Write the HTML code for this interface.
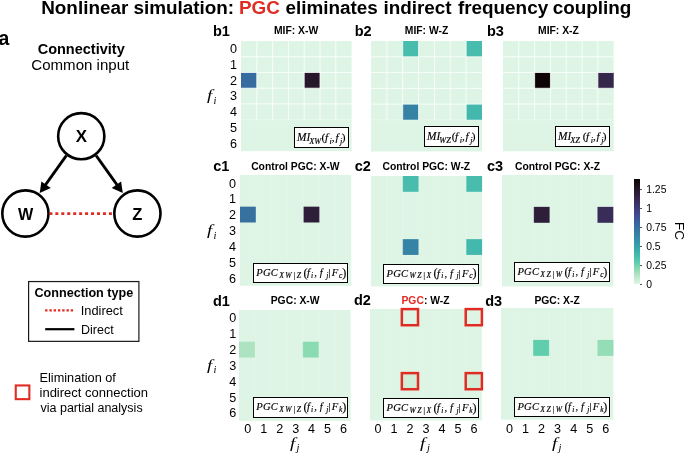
<!DOCTYPE html>
<html><head><meta charset="utf-8"><style>
*{margin:0;padding:0;box-sizing:border-box}
html,body{width:685px;height:453px;overflow:hidden;background:#fff}
body{position:relative;will-change:transform;font-family:"Liberation Sans",sans-serif;color:#000}
.a{position:absolute;white-space:nowrap}
.hm{position:absolute;background:#def5e5;overflow:hidden}
.cell{position:absolute}
.gl{position:absolute;background:#fff}
.ttl{position:absolute;font-weight:bold;font-size:10.35px;line-height:10px;text-align:center;white-space:nowrap}
.pl{position:absolute;font-weight:bold;font-size:14.5px;line-height:15px}
.tk{position:absolute;font-size:12.6px;line-height:11px;text-align:center;width:10px}
.box{position:absolute;background:#fff;border:1.3px solid #000}
.mt{color:#000;-webkit-text-stroke:0.15px #000}
.box sub{vertical-align:baseline;position:relative}
.mi{font-size:12px}
.mi .s1{font-size:8.5px;top:3px}
.mi .s2{font-size:8.5px;top:2.5px}
.pg{font-size:11px}
.pg .s3{font-size:8px;top:2px}
.pg .s4{font-size:8px;top:2px}
.cal{font-family:"Liberation Serif",serif}
.fi{position:absolute;font-family:"Liberation Serif",serif;font-style:italic;font-size:14.6px;line-height:16px}
.ff{display:inline-block;transform:scaleX(1.3);transform-origin:0 0}
.fi sub{font-size:10.5px;vertical-align:baseline;position:relative;top:3.5px;left:2.6px}
.rs{position:absolute;border:2.3px solid #E12C24}
</style></head><body>

<div class="a" style="left:41.20px;top:-3.40px;font-family:'Liberation Sans',sans-serif;font-weight:bold;font-size:18.900px;line-height:22.680px;">Nonlinear</div>
<div class="a" style="left:133.40px;top:-3.40px;font-family:'Liberation Sans',sans-serif;font-weight:bold;font-size:18.900px;line-height:22.680px;">simulation:</div>
<div class="a" style="left:238.90px;top:-3.40px;font-family:'Liberation Sans',sans-serif;font-weight:bold;font-size:18.900px;line-height:22.680px;color:#E12C24">PGC</div>
<div class="a" style="left:285.40px;top:-3.40px;font-family:'Liberation Sans',sans-serif;font-weight:bold;font-size:18.900px;line-height:22.680px;">eliminates</div>
<div class="a" style="left:383.40px;top:-3.40px;font-family:'Liberation Sans',sans-serif;font-weight:bold;font-size:18.900px;line-height:22.680px;">indirect</div>
<div class="a" style="left:457.90px;top:-3.40px;font-family:'Liberation Sans',sans-serif;font-weight:bold;font-size:18.900px;line-height:22.680px;">frequency</div>
<div class="a" style="left:552.70px;top:-3.40px;font-family:'Liberation Sans',sans-serif;font-weight:bold;font-size:18.900px;line-height:22.680px;">coupling</div>
<div class="a" style="left:-1.40px;top:26.50px;font-family:'Liberation Sans',sans-serif;font-weight:bold;font-size:19.459px;line-height:23.351px;">a</div>
<div class="a" style="left:37.70px;top:40.80px;font-family:'Liberation Sans',sans-serif;font-weight:bold;font-size:14.500px;line-height:17.400px;">Connectivity</div>
<div class="a" style="left:31.30px;top:56.00px;font-family:'Liberation Sans',sans-serif;font-size:15.078px;line-height:18.094px;">Common input</div>
<div class="a" style="left:34.40px;top:285.80px;font-family:'Liberation Sans',sans-serif;font-weight:bold;font-size:12.631px;line-height:15.157px;">Connection type</div>
<div class="a" style="left:80.70px;top:303.20px;font-family:'Liberation Sans',sans-serif;font-size:12.877px;line-height:15.452px;">Indirect</div>
<div class="a" style="left:81.00px;top:323.20px;font-family:'Liberation Sans',sans-serif;font-size:12.500px;line-height:15.000px;">Direct</div>
<div class="a" style="left:39.50px;top:370.30px;font-family:'Liberation Sans',sans-serif;font-size:12.737px;line-height:15.284px;">Elimination of</div>
<div class="a" style="left:39.50px;top:385.10px;font-family:'Liberation Sans',sans-serif;font-size:13.035px;line-height:15.642px;">indirect connection</div>
<div class="a" style="left:40.50px;top:401.00px;font-family:'Liberation Sans',sans-serif;font-size:12.500px;line-height:15.000px;">via partial analysis</div>
<svg class="a" style="left:0;top:0" width="685" height="453" viewBox="0 0 685 453">
<g fill="#fff" stroke="#000" stroke-width="2.6">
<circle cx="81.25" cy="136.2" r="23.1"/>
<circle cx="25.4" cy="213.5" r="23.1"/>
<circle cx="137.4" cy="213.5" r="23.1"/>
</g>
<g stroke="#000" stroke-width="3" fill="none">
<line x1="66.4" y1="155.5" x2="45" y2="185.5"/>
<line x1="96.1" y1="155.5" x2="117.5" y2="185.5"/>
</g>
<g fill="#000">
<polygon points="39.7,193 41.4,181.5 50.8,188.1"/>
<polygon points="122.8,193 121.1,181.5 111.7,188.1"/>
</g>
<line x1="49.4" y1="213.7" x2="113" y2="213.7" stroke="#E12C24" stroke-width="2.8" stroke-dasharray="3,2.95"/>
<rect x="28.6" y="281.55" width="110.3" height="59.8" fill="none" stroke="#1a1a1a" stroke-width="1.2"/>
<line x1="45.1" y1="310.4" x2="73.1" y2="310.4" stroke="#E12C24" stroke-width="2.4" stroke-dasharray="2.4,1.87"/>
<line x1="45.2" y1="329.2" x2="74.4" y2="329.2" stroke="#000" stroke-width="2.2"/>
<rect x="15.75" y="385.45" width="13.6" height="13.7" fill="none" stroke="#E12C24" stroke-width="2.1"/>
</svg>
<div class="a" style="left:75.80px;top:127.20px;font-family:'Liberation Sans',sans-serif;font-weight:bold;font-size:16.899px;line-height:20.279px;">X</div>
<div class="a" style="left:17.90px;top:205.00px;font-family:'Liberation Sans',sans-serif;font-weight:bold;font-size:16.164px;line-height:19.397px;">W</div>
<div class="a" style="left:132.20px;top:204.70px;font-family:'Liberation Sans',sans-serif;font-weight:bold;font-size:16.490px;line-height:19.788px;">Z</div>
<svg class="a" style="left:240.80px;top:40.80px;overflow:visible" width="110.60" height="110.10"><rect x="0" y="0" width="110.60" height="110.10" fill="#def5e5"/><rect x="0.00" y="31.46" width="15.80" height="15.73" fill="#376ca0"/><rect x="63.20" y="31.46" width="15.80" height="15.73" fill="#26172b"/><line x1="15.80" y1="0" x2="15.80" y2="78.64" stroke="#fff" stroke-width="1" stroke-opacity="0.80"/><line x1="31.60" y1="0" x2="31.60" y2="78.64" stroke="#fff" stroke-width="1" stroke-opacity="0.80"/><line x1="47.40" y1="0" x2="47.40" y2="78.64" stroke="#fff" stroke-width="1" stroke-opacity="0.80"/><line x1="63.20" y1="0" x2="63.20" y2="78.64" stroke="#fff" stroke-width="1" stroke-opacity="0.80"/><line x1="79.00" y1="0" x2="79.00" y2="78.64" stroke="#fff" stroke-width="1" stroke-opacity="0.80"/><line x1="94.80" y1="0" x2="94.80" y2="78.64" stroke="#fff" stroke-width="1" stroke-opacity="0.80"/><line x1="0" y1="15.73" x2="110.60" y2="15.73" stroke="#fff" stroke-width="1" stroke-opacity="0.80"/><line x1="0" y1="31.46" x2="110.60" y2="31.46" stroke="#fff" stroke-width="1" stroke-opacity="0.80"/><line x1="0" y1="47.19" x2="110.60" y2="47.19" stroke="#fff" stroke-width="1" stroke-opacity="0.80"/><line x1="0" y1="62.91" x2="110.60" y2="62.91" stroke="#fff" stroke-width="1" stroke-opacity="0.80"/><line x1="0" y1="78.64" x2="110.60" y2="78.64" stroke="#fff" stroke-width="1" stroke-opacity="0.35"/></svg>
<div class="ttl" style="left:210.80px;top:26.30px;width:170.60px">MIF: X-W</div>
<div class="pl" style="left:213.0px;top:23.9px">b1</div>
<div class="box" style="left:294.20px;top:127.00px;width:54.60px;height:20.70px"></div>
<div class="a mt" style="left:297.10px;top:129.80px;font-family:'Liberation Serif',serif;font-style:italic;font-size:12.600px;line-height:15.120px;letter-spacing:0.00px;transform:scaleX(0.900);transform-origin:0 0">MI</div>
<div class="a mt" style="left:309.20px;top:136.60px;font-family:'Liberation Serif',serif;font-style:italic;font-size:8.300px;line-height:9.960px;letter-spacing:0.00px">XW</div>
<div class="a mt" style="left:321.60px;top:130.80px;font-family:'Liberation Serif',serif;font-style:normal;font-size:11.300px;line-height:13.560px;letter-spacing:0.00px">(</div>
<div class="a mt" style="left:325.00px;top:130.80px;font-family:'Liberation Serif',serif;font-style:italic;font-size:11.300px;line-height:13.560px;letter-spacing:0.00px">f</div>
<div class="a mt" style="left:329.60px;top:136.60px;font-family:'Liberation Serif',serif;font-style:italic;font-size:8.300px;line-height:9.960px;letter-spacing:0.00px">i</div>
<div class="a mt" style="left:331.80px;top:130.80px;font-family:'Liberation Serif',serif;font-style:normal;font-size:11.300px;line-height:13.560px;letter-spacing:0.00px">,</div>
<div class="a mt" style="left:335.40px;top:130.80px;font-family:'Liberation Serif',serif;font-style:italic;font-size:11.300px;line-height:13.560px;letter-spacing:0.00px">f</div>
<div class="a mt" style="left:340.10px;top:136.60px;font-family:'Liberation Serif',serif;font-style:italic;font-size:8.300px;line-height:9.960px;letter-spacing:0.00px">j</div>
<div class="a mt" style="left:341.70px;top:130.80px;font-family:'Liberation Serif',serif;font-style:normal;font-size:11.300px;line-height:13.560px;letter-spacing:0.00px">)</div>
<div class="tk" style="left:225.00px;top:44.16px;text-align:right;width:12px">0</div>
<div class="tk" style="left:225.00px;top:59.89px;text-align:right;width:12px">1</div>
<div class="tk" style="left:225.00px;top:75.62px;text-align:right;width:12px">2</div>
<div class="tk" style="left:225.00px;top:91.35px;text-align:right;width:12px">3</div>
<div class="tk" style="left:225.00px;top:107.08px;text-align:right;width:12px">4</div>
<div class="tk" style="left:225.00px;top:122.81px;text-align:right;width:12px">5</div>
<div class="tk" style="left:225.00px;top:138.54px;text-align:right;width:12px">6</div>
<div class="fi" style="left:206.80px;top:87.35px"><span class="ff">f</span><sub>i</sub></div>
<svg class="a" style="left:371.00px;top:41.00px;overflow:visible" width="111.00" height="110.50"><rect x="0" y="0" width="111.00" height="110.50" fill="#def5e5"/><rect x="31.71" y="0.00" width="15.86" height="15.79" fill="#48bdad"/><rect x="95.14" y="0.00" width="15.86" height="15.79" fill="#48bdad"/><rect x="31.71" y="63.14" width="15.86" height="15.79" fill="#3682a4"/><rect x="95.14" y="63.14" width="15.86" height="15.79" fill="#43b8ad"/><line x1="15.86" y1="0" x2="15.86" y2="78.93" stroke="#fff" stroke-width="1" stroke-opacity="0.75"/><line x1="31.71" y1="0" x2="31.71" y2="78.93" stroke="#fff" stroke-width="1" stroke-opacity="0.75"/><line x1="47.57" y1="0" x2="47.57" y2="78.93" stroke="#fff" stroke-width="1" stroke-opacity="0.75"/><line x1="63.43" y1="0" x2="63.43" y2="78.93" stroke="#fff" stroke-width="1" stroke-opacity="0.75"/><line x1="79.29" y1="0" x2="79.29" y2="78.93" stroke="#fff" stroke-width="1" stroke-opacity="0.75"/><line x1="95.14" y1="0" x2="95.14" y2="78.93" stroke="#fff" stroke-width="1" stroke-opacity="0.75"/><line x1="0" y1="15.79" x2="111.00" y2="15.79" stroke="#fff" stroke-width="1" stroke-opacity="0.75"/><line x1="0" y1="31.57" x2="111.00" y2="31.57" stroke="#fff" stroke-width="1" stroke-opacity="0.75"/><line x1="0" y1="47.36" x2="111.00" y2="47.36" stroke="#fff" stroke-width="1" stroke-opacity="0.75"/><line x1="0" y1="63.14" x2="111.00" y2="63.14" stroke="#fff" stroke-width="1" stroke-opacity="0.75"/><line x1="0" y1="78.93" x2="111.00" y2="78.93" stroke="#fff" stroke-width="1" stroke-opacity="0.35"/></svg>
<div class="ttl" style="left:341.00px;top:26.30px;width:171.00px">MIF: W-Z</div>
<div class="pl" style="left:354.7px;top:23.9px">b2</div>
<div class="box" style="left:424.30px;top:126.40px;width:54.50px;height:20.60px"></div>
<div class="a mt" style="left:427.20px;top:129.20px;font-family:'Liberation Serif',serif;font-style:italic;font-size:12.600px;line-height:15.120px;letter-spacing:0.00px;transform:scaleX(0.900);transform-origin:0 0">MI</div>
<div class="a mt" style="left:439.30px;top:136.00px;font-family:'Liberation Serif',serif;font-style:italic;font-size:8.300px;line-height:9.960px;letter-spacing:0.00px">WZ</div>
<div class="a mt" style="left:451.70px;top:130.20px;font-family:'Liberation Serif',serif;font-style:normal;font-size:11.300px;line-height:13.560px;letter-spacing:0.00px">(</div>
<div class="a mt" style="left:455.10px;top:130.20px;font-family:'Liberation Serif',serif;font-style:italic;font-size:11.300px;line-height:13.560px;letter-spacing:0.00px">f</div>
<div class="a mt" style="left:459.70px;top:136.00px;font-family:'Liberation Serif',serif;font-style:italic;font-size:8.300px;line-height:9.960px;letter-spacing:0.00px">i</div>
<div class="a mt" style="left:461.90px;top:130.20px;font-family:'Liberation Serif',serif;font-style:normal;font-size:11.300px;line-height:13.560px;letter-spacing:0.00px">,</div>
<div class="a mt" style="left:465.50px;top:130.20px;font-family:'Liberation Serif',serif;font-style:italic;font-size:11.300px;line-height:13.560px;letter-spacing:0.00px">f</div>
<div class="a mt" style="left:470.20px;top:136.00px;font-family:'Liberation Serif',serif;font-style:italic;font-size:8.300px;line-height:9.960px;letter-spacing:0.00px">j</div>
<div class="a mt" style="left:471.80px;top:130.20px;font-family:'Liberation Serif',serif;font-style:normal;font-size:11.300px;line-height:13.560px;letter-spacing:0.00px">)</div>
<svg class="a" style="left:503.10px;top:41.00px;overflow:visible" width="110.70" height="110.30"><rect x="0" y="0" width="110.70" height="110.30" fill="#def5e5"/><rect x="31.63" y="31.51" width="15.81" height="15.76" fill="#0c0405"/><rect x="94.89" y="31.51" width="15.81" height="15.76" fill="#35264c"/><line x1="15.81" y1="0" x2="15.81" y2="78.79" stroke="#fff" stroke-width="1" stroke-opacity="0.80"/><line x1="31.63" y1="0" x2="31.63" y2="78.79" stroke="#fff" stroke-width="1" stroke-opacity="0.80"/><line x1="47.44" y1="0" x2="47.44" y2="78.79" stroke="#fff" stroke-width="1" stroke-opacity="0.80"/><line x1="63.26" y1="0" x2="63.26" y2="78.79" stroke="#fff" stroke-width="1" stroke-opacity="0.80"/><line x1="79.07" y1="0" x2="79.07" y2="78.79" stroke="#fff" stroke-width="1" stroke-opacity="0.80"/><line x1="94.89" y1="0" x2="94.89" y2="78.79" stroke="#fff" stroke-width="1" stroke-opacity="0.80"/><line x1="0" y1="15.76" x2="110.70" y2="15.76" stroke="#fff" stroke-width="1" stroke-opacity="0.80"/><line x1="0" y1="31.51" x2="110.70" y2="31.51" stroke="#fff" stroke-width="1" stroke-opacity="0.80"/><line x1="0" y1="47.27" x2="110.70" y2="47.27" stroke="#fff" stroke-width="1" stroke-opacity="0.80"/><line x1="0" y1="63.03" x2="110.70" y2="63.03" stroke="#fff" stroke-width="1" stroke-opacity="0.80"/><line x1="0" y1="78.79" x2="110.70" y2="78.79" stroke="#fff" stroke-width="1" stroke-opacity="0.35"/></svg>
<div class="ttl" style="left:473.10px;top:26.30px;width:170.70px">MIF: X-Z</div>
<div class="pl" style="left:487.0px;top:23.7px">b3</div>
<div class="box" style="left:555.30px;top:126.40px;width:54.60px;height:20.80px"></div>
<div class="a mt" style="left:558.20px;top:129.20px;font-family:'Liberation Serif',serif;font-style:italic;font-size:12.600px;line-height:15.120px;letter-spacing:0.00px;transform:scaleX(0.900);transform-origin:0 0">MI</div>
<div class="a mt" style="left:570.30px;top:136.00px;font-family:'Liberation Serif',serif;font-style:italic;font-size:8.300px;line-height:9.960px;letter-spacing:0.00px">XZ</div>
<div class="a mt" style="left:582.70px;top:130.20px;font-family:'Liberation Serif',serif;font-style:normal;font-size:11.300px;line-height:13.560px;letter-spacing:0.00px">(</div>
<div class="a mt" style="left:586.10px;top:130.20px;font-family:'Liberation Serif',serif;font-style:italic;font-size:11.300px;line-height:13.560px;letter-spacing:0.00px">f</div>
<div class="a mt" style="left:590.70px;top:136.00px;font-family:'Liberation Serif',serif;font-style:italic;font-size:8.300px;line-height:9.960px;letter-spacing:0.00px">i</div>
<div class="a mt" style="left:592.90px;top:130.20px;font-family:'Liberation Serif',serif;font-style:normal;font-size:11.300px;line-height:13.560px;letter-spacing:0.00px">,</div>
<div class="a mt" style="left:596.50px;top:130.20px;font-family:'Liberation Serif',serif;font-style:italic;font-size:11.300px;line-height:13.560px;letter-spacing:0.00px">f</div>
<div class="a mt" style="left:601.20px;top:136.00px;font-family:'Liberation Serif',serif;font-style:italic;font-size:8.300px;line-height:9.960px;letter-spacing:0.00px">j</div>
<div class="a mt" style="left:602.80px;top:130.20px;font-family:'Liberation Serif',serif;font-style:normal;font-size:11.300px;line-height:13.560px;letter-spacing:0.00px">)</div>
<svg class="a" style="left:239.80px;top:175.20px;overflow:visible" width="111.20" height="110.80"><rect x="0" y="0" width="111.20" height="110.80" fill="#def5e5"/><rect x="0.00" y="31.66" width="15.89" height="15.83" fill="#3671a0"/><rect x="63.54" y="31.66" width="15.89" height="15.83" fill="#2e1e39"/><line x1="15.89" y1="0" x2="15.89" y2="110.80" stroke="#fff" stroke-width="1" stroke-opacity="0.15"/><line x1="31.77" y1="0" x2="31.77" y2="110.80" stroke="#fff" stroke-width="1" stroke-opacity="0.15"/><line x1="47.66" y1="0" x2="47.66" y2="110.80" stroke="#fff" stroke-width="1" stroke-opacity="0.15"/><line x1="63.54" y1="0" x2="63.54" y2="110.80" stroke="#fff" stroke-width="1" stroke-opacity="0.15"/><line x1="79.43" y1="0" x2="79.43" y2="110.80" stroke="#fff" stroke-width="1" stroke-opacity="0.15"/><line x1="95.31" y1="0" x2="95.31" y2="110.80" stroke="#fff" stroke-width="1" stroke-opacity="0.15"/></svg>
<div class="ttl" style="left:209.80px;top:161.90px;width:171.20px">Control PGC: X-W</div>
<div class="pl" style="left:213.3px;top:159.0px">c1</div>
<div class="box" style="left:253.00px;top:263.00px;width:95.40px;height:19.70px"></div>
<div class="a mt" style="left:256.30px;top:266.90px;font-family:'Liberation Serif',serif;font-style:italic;font-size:10.600px;line-height:12.720px;letter-spacing:0.20px">PGC</div>
<div class="a mt" style="left:279.20px;top:270.80px;font-family:'Liberation Serif',serif;font-style:italic;font-size:7.600px;line-height:9.120px;letter-spacing:1.50px">XW|Z</div>
<div class="a mt" style="left:303.40px;top:265.50px;font-family:'Liberation Serif',serif;font-style:normal;font-size:12.200px;line-height:14.640px;letter-spacing:0.00px">(</div>
<div class="a mt" style="left:306.90px;top:266.90px;font-family:'Liberation Serif',serif;font-style:italic;font-size:10.600px;line-height:12.720px;letter-spacing:0.00px">f</div>
<div class="a mt" style="left:311.10px;top:270.80px;font-family:'Liberation Serif',serif;font-style:italic;font-size:7.600px;line-height:9.120px;letter-spacing:0.00px">i</div>
<div class="a mt" style="left:314.30px;top:266.90px;font-family:'Liberation Serif',serif;font-style:normal;font-size:10.600px;line-height:12.720px;letter-spacing:0.00px">,</div>
<div class="a mt" style="left:319.80px;top:266.90px;font-family:'Liberation Serif',serif;font-style:italic;font-size:10.600px;line-height:12.720px;letter-spacing:0.00px">f</div>
<div class="a mt" style="left:326.20px;top:270.80px;font-family:'Liberation Serif',serif;font-style:italic;font-size:7.600px;line-height:9.120px;letter-spacing:0.00px">j</div>
<div class="a mt" style="left:328.30px;top:266.90px;font-family:'Liberation Serif',serif;font-style:normal;font-size:10.600px;line-height:12.720px;letter-spacing:0.00px">|</div>
<div class="a mt" style="left:331.70px;top:266.90px;font-family:'Liberation Serif',serif;font-style:italic;font-size:10.600px;line-height:12.720px;letter-spacing:0.00px">F</div>
<div class="a mt" style="left:339.10px;top:270.80px;font-family:'Liberation Serif',serif;font-style:italic;font-size:7.600px;line-height:9.120px;letter-spacing:0.00px">c</div>
<div class="a mt" style="left:342.20px;top:265.50px;font-family:'Liberation Serif',serif;font-style:normal;font-size:12.200px;line-height:14.640px;letter-spacing:0.00px">)</div>
<div class="tk" style="left:224.00px;top:178.61px;text-align:right;width:12px">0</div>
<div class="tk" style="left:224.00px;top:194.44px;text-align:right;width:12px">1</div>
<div class="tk" style="left:224.00px;top:210.27px;text-align:right;width:12px">2</div>
<div class="tk" style="left:224.00px;top:226.10px;text-align:right;width:12px">3</div>
<div class="tk" style="left:224.00px;top:241.93px;text-align:right;width:12px">4</div>
<div class="tk" style="left:224.00px;top:257.76px;text-align:right;width:12px">5</div>
<div class="tk" style="left:224.00px;top:273.59px;text-align:right;width:12px">6</div>
<div class="fi" style="left:206.80px;top:222.10px"><span class="ff">f</span><sub>i</sub></div>
<svg class="a" style="left:370.80px;top:175.90px;overflow:visible" width="111.10" height="110.50"><rect x="0" y="0" width="111.10" height="110.50" fill="#def5e5"/><rect x="31.74" y="0.00" width="15.87" height="15.79" fill="#48bdad"/><rect x="95.23" y="0.00" width="15.87" height="15.79" fill="#48bdad"/><rect x="31.74" y="63.14" width="15.87" height="15.79" fill="#3583a5"/><rect x="95.23" y="63.14" width="15.87" height="15.79" fill="#43b8ad"/><line x1="15.87" y1="0" x2="15.87" y2="110.50" stroke="#fff" stroke-width="1" stroke-opacity="0.15"/><line x1="31.74" y1="0" x2="31.74" y2="110.50" stroke="#fff" stroke-width="1" stroke-opacity="0.15"/><line x1="47.61" y1="0" x2="47.61" y2="110.50" stroke="#fff" stroke-width="1" stroke-opacity="0.15"/><line x1="63.49" y1="0" x2="63.49" y2="110.50" stroke="#fff" stroke-width="1" stroke-opacity="0.15"/><line x1="79.36" y1="0" x2="79.36" y2="110.50" stroke="#fff" stroke-width="1" stroke-opacity="0.15"/><line x1="95.23" y1="0" x2="95.23" y2="110.50" stroke="#fff" stroke-width="1" stroke-opacity="0.15"/></svg>
<div class="ttl" style="left:340.80px;top:161.90px;width:171.10px">Control PGC: W-Z</div>
<div class="pl" style="left:354.8px;top:159.0px">c2</div>
<div class="box" style="left:383.20px;top:263.60px;width:95.70px;height:20.10px"></div>
<div class="a mt" style="left:386.50px;top:267.50px;font-family:'Liberation Serif',serif;font-style:italic;font-size:10.600px;line-height:12.720px;letter-spacing:0.20px">PGC</div>
<div class="a mt" style="left:409.40px;top:271.40px;font-family:'Liberation Serif',serif;font-style:italic;font-size:7.600px;line-height:9.120px;letter-spacing:1.50px">WZ|X</div>
<div class="a mt" style="left:433.60px;top:266.10px;font-family:'Liberation Serif',serif;font-style:normal;font-size:12.200px;line-height:14.640px;letter-spacing:0.00px">(</div>
<div class="a mt" style="left:437.10px;top:267.50px;font-family:'Liberation Serif',serif;font-style:italic;font-size:10.600px;line-height:12.720px;letter-spacing:0.00px">f</div>
<div class="a mt" style="left:441.30px;top:271.40px;font-family:'Liberation Serif',serif;font-style:italic;font-size:7.600px;line-height:9.120px;letter-spacing:0.00px">i</div>
<div class="a mt" style="left:444.50px;top:267.50px;font-family:'Liberation Serif',serif;font-style:normal;font-size:10.600px;line-height:12.720px;letter-spacing:0.00px">,</div>
<div class="a mt" style="left:450.00px;top:267.50px;font-family:'Liberation Serif',serif;font-style:italic;font-size:10.600px;line-height:12.720px;letter-spacing:0.00px">f</div>
<div class="a mt" style="left:456.40px;top:271.40px;font-family:'Liberation Serif',serif;font-style:italic;font-size:7.600px;line-height:9.120px;letter-spacing:0.00px">j</div>
<div class="a mt" style="left:458.50px;top:267.50px;font-family:'Liberation Serif',serif;font-style:normal;font-size:10.600px;line-height:12.720px;letter-spacing:0.00px">|</div>
<div class="a mt" style="left:461.90px;top:267.50px;font-family:'Liberation Serif',serif;font-style:italic;font-size:10.600px;line-height:12.720px;letter-spacing:0.00px">F</div>
<div class="a mt" style="left:469.30px;top:271.40px;font-family:'Liberation Serif',serif;font-style:italic;font-size:7.600px;line-height:9.120px;letter-spacing:0.00px">c</div>
<div class="a mt" style="left:472.40px;top:266.10px;font-family:'Liberation Serif',serif;font-style:normal;font-size:12.200px;line-height:14.640px;letter-spacing:0.00px">)</div>
<svg class="a" style="left:501.90px;top:174.90px;overflow:visible" width="111.30" height="111.50"><rect x="0" y="0" width="111.30" height="111.50" fill="#def5e5"/><rect x="31.80" y="31.86" width="15.90" height="15.93" fill="#2e1e39"/><rect x="95.40" y="31.86" width="15.90" height="15.93" fill="#3a2c58"/><line x1="15.90" y1="0" x2="15.90" y2="111.50" stroke="#fff" stroke-width="1" stroke-opacity="0.15"/><line x1="31.80" y1="0" x2="31.80" y2="111.50" stroke="#fff" stroke-width="1" stroke-opacity="0.15"/><line x1="47.70" y1="0" x2="47.70" y2="111.50" stroke="#fff" stroke-width="1" stroke-opacity="0.15"/><line x1="63.60" y1="0" x2="63.60" y2="111.50" stroke="#fff" stroke-width="1" stroke-opacity="0.15"/><line x1="79.50" y1="0" x2="79.50" y2="111.50" stroke="#fff" stroke-width="1" stroke-opacity="0.15"/><line x1="95.40" y1="0" x2="95.40" y2="111.50" stroke="#fff" stroke-width="1" stroke-opacity="0.15"/></svg>
<div class="ttl" style="left:471.90px;top:161.90px;width:171.30px">Control PGC: X-Z</div>
<div class="pl" style="left:486.9px;top:159.0px">c3</div>
<div class="box" style="left:514.10px;top:262.30px;width:96.00px;height:20.20px"></div>
<div class="a mt" style="left:517.40px;top:266.20px;font-family:'Liberation Serif',serif;font-style:italic;font-size:10.600px;line-height:12.720px;letter-spacing:0.20px">PGC</div>
<div class="a mt" style="left:540.30px;top:270.10px;font-family:'Liberation Serif',serif;font-style:italic;font-size:7.600px;line-height:9.120px;letter-spacing:1.50px">XZ|W</div>
<div class="a mt" style="left:564.50px;top:264.80px;font-family:'Liberation Serif',serif;font-style:normal;font-size:12.200px;line-height:14.640px;letter-spacing:0.00px">(</div>
<div class="a mt" style="left:568.00px;top:266.20px;font-family:'Liberation Serif',serif;font-style:italic;font-size:10.600px;line-height:12.720px;letter-spacing:0.00px">f</div>
<div class="a mt" style="left:572.20px;top:270.10px;font-family:'Liberation Serif',serif;font-style:italic;font-size:7.600px;line-height:9.120px;letter-spacing:0.00px">i</div>
<div class="a mt" style="left:575.40px;top:266.20px;font-family:'Liberation Serif',serif;font-style:normal;font-size:10.600px;line-height:12.720px;letter-spacing:0.00px">,</div>
<div class="a mt" style="left:580.90px;top:266.20px;font-family:'Liberation Serif',serif;font-style:italic;font-size:10.600px;line-height:12.720px;letter-spacing:0.00px">f</div>
<div class="a mt" style="left:587.30px;top:270.10px;font-family:'Liberation Serif',serif;font-style:italic;font-size:7.600px;line-height:9.120px;letter-spacing:0.00px">j</div>
<div class="a mt" style="left:589.40px;top:266.20px;font-family:'Liberation Serif',serif;font-style:normal;font-size:10.600px;line-height:12.720px;letter-spacing:0.00px">|</div>
<div class="a mt" style="left:592.80px;top:266.20px;font-family:'Liberation Serif',serif;font-style:italic;font-size:10.600px;line-height:12.720px;letter-spacing:0.00px">F</div>
<div class="a mt" style="left:600.20px;top:270.10px;font-family:'Liberation Serif',serif;font-style:italic;font-size:7.600px;line-height:9.120px;letter-spacing:0.00px">c</div>
<div class="a mt" style="left:603.30px;top:264.80px;font-family:'Liberation Serif',serif;font-style:normal;font-size:12.200px;line-height:14.640px;letter-spacing:0.00px">)</div>
<svg class="a" style="left:239.30px;top:309.90px;overflow:visible" width="111.70" height="110.90"><rect x="0" y="0" width="111.70" height="110.90" fill="#def5e5"/><rect x="0.00" y="31.69" width="15.96" height="15.84" fill="#ade3c0"/><rect x="63.83" y="31.69" width="15.96" height="15.84" fill="#8adab2"/><line x1="15.96" y1="0" x2="15.96" y2="110.90" stroke="#fff" stroke-width="1" stroke-opacity="0.15"/><line x1="31.91" y1="0" x2="31.91" y2="110.90" stroke="#fff" stroke-width="1" stroke-opacity="0.15"/><line x1="47.87" y1="0" x2="47.87" y2="110.90" stroke="#fff" stroke-width="1" stroke-opacity="0.15"/><line x1="63.83" y1="0" x2="63.83" y2="110.90" stroke="#fff" stroke-width="1" stroke-opacity="0.15"/><line x1="79.79" y1="0" x2="79.79" y2="110.90" stroke="#fff" stroke-width="1" stroke-opacity="0.15"/><line x1="95.74" y1="0" x2="95.74" y2="110.90" stroke="#fff" stroke-width="1" stroke-opacity="0.15"/></svg>
<div class="ttl" style="left:209.30px;top:295.90px;width:171.70px">PGC: X-W</div>
<div class="pl" style="left:212.9px;top:293.5px">d1</div>
<div class="box" style="left:253.00px;top:397.30px;width:95.40px;height:20.40px"></div>
<div class="a mt" style="left:256.30px;top:401.20px;font-family:'Liberation Serif',serif;font-style:italic;font-size:10.600px;line-height:12.720px;letter-spacing:0.20px">PGC</div>
<div class="a mt" style="left:279.20px;top:405.10px;font-family:'Liberation Serif',serif;font-style:italic;font-size:7.600px;line-height:9.120px;letter-spacing:1.50px">XW|Z</div>
<div class="a mt" style="left:303.40px;top:399.80px;font-family:'Liberation Serif',serif;font-style:normal;font-size:12.200px;line-height:14.640px;letter-spacing:0.00px">(</div>
<div class="a mt" style="left:306.90px;top:401.20px;font-family:'Liberation Serif',serif;font-style:italic;font-size:10.600px;line-height:12.720px;letter-spacing:0.00px">f</div>
<div class="a mt" style="left:311.10px;top:405.10px;font-family:'Liberation Serif',serif;font-style:italic;font-size:7.600px;line-height:9.120px;letter-spacing:0.00px">i</div>
<div class="a mt" style="left:314.30px;top:401.20px;font-family:'Liberation Serif',serif;font-style:normal;font-size:10.600px;line-height:12.720px;letter-spacing:0.00px">,</div>
<div class="a mt" style="left:319.80px;top:401.20px;font-family:'Liberation Serif',serif;font-style:italic;font-size:10.600px;line-height:12.720px;letter-spacing:0.00px">f</div>
<div class="a mt" style="left:326.20px;top:405.10px;font-family:'Liberation Serif',serif;font-style:italic;font-size:7.600px;line-height:9.120px;letter-spacing:0.00px">j</div>
<div class="a mt" style="left:328.30px;top:401.20px;font-family:'Liberation Serif',serif;font-style:normal;font-size:10.600px;line-height:12.720px;letter-spacing:0.00px">|</div>
<div class="a mt" style="left:331.70px;top:401.20px;font-family:'Liberation Serif',serif;font-style:italic;font-size:10.600px;line-height:12.720px;letter-spacing:0.00px">F</div>
<div class="a mt" style="left:339.10px;top:405.10px;font-family:'Liberation Serif',serif;font-style:italic;font-size:7.600px;line-height:9.120px;letter-spacing:0.00px">k</div>
<div class="a mt" style="left:342.20px;top:399.80px;font-family:'Liberation Serif',serif;font-style:normal;font-size:12.200px;line-height:14.640px;letter-spacing:0.00px">)</div>
<div class="tk" style="left:224.30px;top:313.32px;text-align:right;width:12px">0</div>
<div class="tk" style="left:224.30px;top:329.16px;text-align:right;width:12px">1</div>
<div class="tk" style="left:224.30px;top:345.01px;text-align:right;width:12px">2</div>
<div class="tk" style="left:224.30px;top:360.85px;text-align:right;width:12px">3</div>
<div class="tk" style="left:224.30px;top:376.69px;text-align:right;width:12px">4</div>
<div class="tk" style="left:224.30px;top:392.54px;text-align:right;width:12px">5</div>
<div class="tk" style="left:224.30px;top:408.38px;text-align:right;width:12px">6</div>
<div class="fi" style="left:206.80px;top:356.85px"><span class="ff">f</span><sub>i</sub></div>
<div class="tk" style="left:242.78px;top:424.10px">0</div>
<div class="tk" style="left:258.74px;top:424.10px">1</div>
<div class="tk" style="left:274.69px;top:424.10px">2</div>
<div class="tk" style="left:290.65px;top:424.10px">3</div>
<div class="tk" style="left:306.61px;top:424.10px">4</div>
<div class="tk" style="left:322.56px;top:424.10px">5</div>
<div class="tk" style="left:338.52px;top:424.10px">6</div>
<div class="fi" style="left:289.95px;top:434.70px"><span class="ff">f</span><sub>j</sub></div>
<svg class="a" style="left:369.60px;top:309.00px;overflow:visible" width="111.80" height="111.50"><rect x="0" y="0" width="111.80" height="111.50" fill="#def5e5"/><rect x="31.94" y="63.71" width="15.97" height="15.93" fill="#d0edd8"/><rect x="95.83" y="63.71" width="15.97" height="15.93" fill="#d0edd8"/><line x1="15.97" y1="0" x2="15.97" y2="111.50" stroke="#fff" stroke-width="1" stroke-opacity="0.15"/><line x1="31.94" y1="0" x2="31.94" y2="111.50" stroke="#fff" stroke-width="1" stroke-opacity="0.15"/><line x1="47.91" y1="0" x2="47.91" y2="111.50" stroke="#fff" stroke-width="1" stroke-opacity="0.15"/><line x1="63.89" y1="0" x2="63.89" y2="111.50" stroke="#fff" stroke-width="1" stroke-opacity="0.15"/><line x1="79.86" y1="0" x2="79.86" y2="111.50" stroke="#fff" stroke-width="1" stroke-opacity="0.15"/><line x1="95.83" y1="0" x2="95.83" y2="111.50" stroke="#fff" stroke-width="1" stroke-opacity="0.15"/><rect x="31.84" y="0.10" width="16.17" height="16.13" fill="none" stroke="#E12C24" stroke-width="2.5"/><rect x="95.73" y="0.10" width="16.17" height="16.13" fill="none" stroke="#E12C24" stroke-width="2.5"/><rect x="31.84" y="64.11" width="16.17" height="16.13" fill="none" stroke="#E12C24" stroke-width="2.5"/><rect x="95.73" y="64.11" width="16.17" height="16.13" fill="none" stroke="#E12C24" stroke-width="2.5"/></svg>
<div class="ttl" style="left:339.60px;top:295.90px;width:171.80px"><span style="color:#E12C24">PGC</span>: W-Z</div>
<div class="pl" style="left:353.9px;top:293.0px">d2</div>
<div class="box" style="left:383.20px;top:398.00px;width:95.80px;height:20.40px"></div>
<div class="a mt" style="left:386.50px;top:401.90px;font-family:'Liberation Serif',serif;font-style:italic;font-size:10.600px;line-height:12.720px;letter-spacing:0.20px">PGC</div>
<div class="a mt" style="left:409.40px;top:405.80px;font-family:'Liberation Serif',serif;font-style:italic;font-size:7.600px;line-height:9.120px;letter-spacing:1.50px">WZ|X</div>
<div class="a mt" style="left:433.60px;top:400.50px;font-family:'Liberation Serif',serif;font-style:normal;font-size:12.200px;line-height:14.640px;letter-spacing:0.00px">(</div>
<div class="a mt" style="left:437.10px;top:401.90px;font-family:'Liberation Serif',serif;font-style:italic;font-size:10.600px;line-height:12.720px;letter-spacing:0.00px">f</div>
<div class="a mt" style="left:441.30px;top:405.80px;font-family:'Liberation Serif',serif;font-style:italic;font-size:7.600px;line-height:9.120px;letter-spacing:0.00px">i</div>
<div class="a mt" style="left:444.50px;top:401.90px;font-family:'Liberation Serif',serif;font-style:normal;font-size:10.600px;line-height:12.720px;letter-spacing:0.00px">,</div>
<div class="a mt" style="left:450.00px;top:401.90px;font-family:'Liberation Serif',serif;font-style:italic;font-size:10.600px;line-height:12.720px;letter-spacing:0.00px">f</div>
<div class="a mt" style="left:456.40px;top:405.80px;font-family:'Liberation Serif',serif;font-style:italic;font-size:7.600px;line-height:9.120px;letter-spacing:0.00px">j</div>
<div class="a mt" style="left:458.50px;top:401.90px;font-family:'Liberation Serif',serif;font-style:normal;font-size:10.600px;line-height:12.720px;letter-spacing:0.00px">|</div>
<div class="a mt" style="left:461.90px;top:401.90px;font-family:'Liberation Serif',serif;font-style:italic;font-size:10.600px;line-height:12.720px;letter-spacing:0.00px">F</div>
<div class="a mt" style="left:469.30px;top:405.80px;font-family:'Liberation Serif',serif;font-style:italic;font-size:7.600px;line-height:9.120px;letter-spacing:0.00px">k</div>
<div class="a mt" style="left:472.40px;top:400.50px;font-family:'Liberation Serif',serif;font-style:normal;font-size:12.200px;line-height:14.640px;letter-spacing:0.00px">)</div>
<div class="tk" style="left:373.09px;top:424.10px">0</div>
<div class="tk" style="left:389.06px;top:424.10px">1</div>
<div class="tk" style="left:405.03px;top:424.10px">2</div>
<div class="tk" style="left:421.00px;top:424.10px">3</div>
<div class="tk" style="left:436.97px;top:424.10px">4</div>
<div class="tk" style="left:452.94px;top:424.10px">5</div>
<div class="tk" style="left:468.91px;top:424.10px">6</div>
<div class="fi" style="left:420.30px;top:434.70px"><span class="ff">f</span><sub>j</sub></div>
<svg class="a" style="left:500.90px;top:307.90px;overflow:visible" width="112.40" height="111.70"><rect x="0" y="0" width="112.40" height="111.70" fill="#def5e5"/><rect x="32.11" y="31.91" width="16.06" height="15.96" fill="#60ceac"/><rect x="96.34" y="31.91" width="16.06" height="15.96" fill="#95ddb6"/><line x1="16.06" y1="0" x2="16.06" y2="111.70" stroke="#fff" stroke-width="1" stroke-opacity="0.15"/><line x1="32.11" y1="0" x2="32.11" y2="111.70" stroke="#fff" stroke-width="1" stroke-opacity="0.15"/><line x1="48.17" y1="0" x2="48.17" y2="111.70" stroke="#fff" stroke-width="1" stroke-opacity="0.15"/><line x1="64.23" y1="0" x2="64.23" y2="111.70" stroke="#fff" stroke-width="1" stroke-opacity="0.15"/><line x1="80.29" y1="0" x2="80.29" y2="111.70" stroke="#fff" stroke-width="1" stroke-opacity="0.15"/><line x1="96.34" y1="0" x2="96.34" y2="111.70" stroke="#fff" stroke-width="1" stroke-opacity="0.15"/></svg>
<div class="ttl" style="left:470.90px;top:295.90px;width:172.40px">PGC: X-Z</div>
<div class="pl" style="left:485.2px;top:293.8px">d3</div>
<div class="box" style="left:514.10px;top:397.20px;width:95.70px;height:19.80px"></div>
<div class="a mt" style="left:517.40px;top:401.10px;font-family:'Liberation Serif',serif;font-style:italic;font-size:10.600px;line-height:12.720px;letter-spacing:0.20px">PGC</div>
<div class="a mt" style="left:540.30px;top:405.00px;font-family:'Liberation Serif',serif;font-style:italic;font-size:7.600px;line-height:9.120px;letter-spacing:1.50px">XZ|W</div>
<div class="a mt" style="left:564.50px;top:399.70px;font-family:'Liberation Serif',serif;font-style:normal;font-size:12.200px;line-height:14.640px;letter-spacing:0.00px">(</div>
<div class="a mt" style="left:568.00px;top:401.10px;font-family:'Liberation Serif',serif;font-style:italic;font-size:10.600px;line-height:12.720px;letter-spacing:0.00px">f</div>
<div class="a mt" style="left:572.20px;top:405.00px;font-family:'Liberation Serif',serif;font-style:italic;font-size:7.600px;line-height:9.120px;letter-spacing:0.00px">i</div>
<div class="a mt" style="left:575.40px;top:401.10px;font-family:'Liberation Serif',serif;font-style:normal;font-size:10.600px;line-height:12.720px;letter-spacing:0.00px">,</div>
<div class="a mt" style="left:580.90px;top:401.10px;font-family:'Liberation Serif',serif;font-style:italic;font-size:10.600px;line-height:12.720px;letter-spacing:0.00px">f</div>
<div class="a mt" style="left:587.30px;top:405.00px;font-family:'Liberation Serif',serif;font-style:italic;font-size:7.600px;line-height:9.120px;letter-spacing:0.00px">j</div>
<div class="a mt" style="left:589.40px;top:401.10px;font-family:'Liberation Serif',serif;font-style:normal;font-size:10.600px;line-height:12.720px;letter-spacing:0.00px">|</div>
<div class="a mt" style="left:592.80px;top:401.10px;font-family:'Liberation Serif',serif;font-style:italic;font-size:10.600px;line-height:12.720px;letter-spacing:0.00px">F</div>
<div class="a mt" style="left:600.20px;top:405.00px;font-family:'Liberation Serif',serif;font-style:italic;font-size:7.600px;line-height:9.120px;letter-spacing:0.00px">k</div>
<div class="a mt" style="left:603.30px;top:399.70px;font-family:'Liberation Serif',serif;font-style:normal;font-size:12.200px;line-height:14.640px;letter-spacing:0.00px">)</div>
<div class="tk" style="left:504.43px;top:424.10px">0</div>
<div class="tk" style="left:520.49px;top:424.10px">1</div>
<div class="tk" style="left:536.54px;top:424.10px">2</div>
<div class="tk" style="left:552.60px;top:424.10px">3</div>
<div class="tk" style="left:568.66px;top:424.10px">4</div>
<div class="tk" style="left:584.71px;top:424.10px">5</div>
<div class="tk" style="left:600.77px;top:424.10px">6</div>
<div class="fi" style="left:551.90px;top:434.70px"><span class="ff">f</span><sub>j</sub></div>
<div class="a" style="left:634px;top:179.3px;width:5.6px;height:104.7px;background:linear-gradient(to bottom,#0b0405 0.0%,#180d16 5.0%,#251729 10.0%,#30203e 15.0%,#382a54 20.0%,#3e3469 25.0%,#413f80 30.0%,#3e4d93 35.0%,#395d9c 40.0%,#366ca0 45.0%,#357aa2 50.0%,#3488a6 55.0%,#3497a9 60.0%,#37a5ac 65.0%,#3eb4ad 70.0%,#49c1ad 75.0%,#60ceac 80.0%,#85d9b1 85.0%,#a9e1bd 90.0%,#c6ebd1 95.0%,#def5e5 100.0%)"></div>
<div class="a" style="left:639.6px;top:283.60px;width:2px;height:0.8px;background:#555"></div>
<div class="a" style="left:646.2px;top:278.50px;font-size:10.4px;line-height:12px">0</div>
<div class="a" style="left:639.6px;top:264.64px;width:2px;height:0.8px;background:#555"></div>
<div class="a" style="left:646.2px;top:259.54px;font-size:10.4px;line-height:12px">0.25</div>
<div class="a" style="left:639.6px;top:245.68px;width:2px;height:0.8px;background:#555"></div>
<div class="a" style="left:646.2px;top:240.58px;font-size:10.4px;line-height:12px">0.5</div>
<div class="a" style="left:639.6px;top:226.72px;width:2px;height:0.8px;background:#555"></div>
<div class="a" style="left:646.2px;top:221.62px;font-size:10.4px;line-height:12px">0.75</div>
<div class="a" style="left:639.6px;top:207.76px;width:2px;height:0.8px;background:#555"></div>
<div class="a" style="left:646.2px;top:202.66px;font-size:10.4px;line-height:12px">1</div>
<div class="a" style="left:639.6px;top:188.80px;width:2px;height:0.8px;background:#555"></div>
<div class="a" style="left:646.2px;top:183.70px;font-size:10.4px;line-height:12px">1.25</div>
<div class="a" style="left:685.5px;top:222px;font-size:13.5px;line-height:14px;transform:rotate(90deg);transform-origin:0 0">FC</div>
</body></html>
